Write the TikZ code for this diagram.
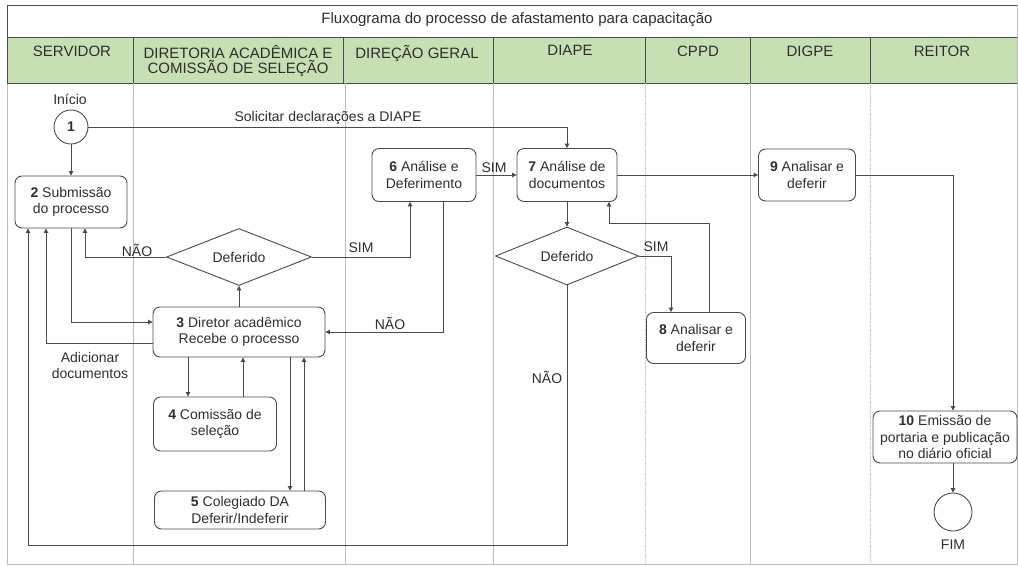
\documentclass[tikz,border=0pt]{standalone}
\usepackage{fontspec}
\setmainfont{Liberation Sans}
\usetikzlibrary{arrows.meta,shapes.geometric}
\definecolor{hdr}{HTML}{C6E0B4}
\definecolor{txt}{HTML}{2E2E2E}
\definecolor{edge}{HTML}{4A4A4A}
\definecolor{lane}{HTML}{BDBDBD}
\begin{document}
\begin{tikzpicture}[x=1pt,y=-1pt,
  every node/.style={text=txt, font=\fontsize{14}{16.5}\selectfont},
  proc/.style={draw=edge, line width=0.9pt, rounded corners=7pt, align=center, inner sep=0pt},
  dec/.style={draw=edge, line width=0.9pt, diamond, aspect=2.5, inner sep=0pt},
  term/.style={draw=edge, line width=0.9pt, circle, inner sep=0pt},
  arr/.style={draw=edge, line width=0.9pt, -{Triangle[length=4.5pt,width=4.5pt]}},
  hd/.style={anchor=north, align=center, text=txt, font=\fontsize{15}{15}\selectfont},
  lbl/.style={fill=none, inner sep=1pt}
]
\useasboundingbox (0,0) rectangle (1018,566);
% frame, title, header
\fill[hdr] (7,37) rectangle (1017,83);
\draw[lane, line width=0.8pt] (7,5) rectangle (1017,564);
\draw[edge, line width=0.9pt] (7,5) -- (1017,5);
\draw[edge, line width=0.8pt] (7,37) -- (1017,37);
\draw[edge, line width=0.9pt] (7,83) -- (1017,83);
\draw[edge, line width=0.8pt] (7,5) -- (7,83);
\foreach \x in {133,343,493,645,750,870}{
  \draw[edge, line width=0.8pt] (\x,37) -- (\x,83);
}
\foreach \x in {133,345,493,750}{
  \draw[lane, line width=0.7pt] (\x,83) -- (\x,564);
}
\foreach \x in {645,870}{
  \draw[lane, line width=0.8pt, densely dotted] (\x,83) -- (\x,564);
}
\node[text=txt, font=\fontsize{15}{16}\selectfont] (title) at (517,20) {Fluxograma do processo de afastamento para capacitação};
\node[hd] (h1) at (72,42) {SERVIDOR};
\node[hd] (h2) at (238,42) {DIRETORIA ACADÊMICA E\\COMISSÃO DE SELEÇÃO};
\node[hd] (h3) at (417,42) {DIREÇÃO GERAL};
\node[hd] (h4) at (570,42) {DIAPE};
\node[hd] (h5) at (698,42) {CPPD};
\node[hd] (h6) at (810,42) {DIGPE};
\node[hd] (h7) at (942,42) {REITOR};

% nodes
\node (inicio) at (70,99) {Início};
\node[term, minimum size=34pt] (n1) at (71,127) {\textbf{1}};
\node[proc, minimum width=112pt, minimum height=52pt] (n2) at (71,202) {\textbf{2} Submissão\\do processo};
\node[dec, minimum width=145pt, minimum height=57pt] (d1) at (239,257) {Deferido};
\node[proc, minimum width=104pt, minimum height=53pt] (n6) at (424,175) {\textbf{6} Análise e\\Deferimento};
\node[proc, minimum width=100pt, minimum height=53pt] (n7) at (567,175) {\textbf{7} Análise de\\documentos};
\node[dec, minimum width=143pt, minimum height=58pt] (d2) at (567,256) {Deferido};
\node[proc, minimum width=99pt, minimum height=51pt] (n8) at (696,338) {\textbf{8} Analisar e\\deferir};
\node[proc, minimum width=97pt, minimum height=52pt] (n9) at (807,175) {\textbf{9} Analisar e\\deferir};
\node[proc, minimum width=144pt, minimum height=52pt] (n10) at (945,437) {\textbf{10} Emissão de\\portaria e publicação\\no diário oficial};
\node[term, minimum size=38pt] (fim) at (953,512) {};
\node (fimlbl) at (953,545) {FIM};
\node[proc, minimum width=172pt, minimum height=50pt] (n3) at (239,332) {\textbf{3} Diretor acadêmico\\Recebe o processo};
\node[proc, minimum width=123pt, minimum height=54pt] (n4) at (215,424) {\textbf{4} Comissão de\\seleção};
\node[proc, minimum width=171pt, minimum height=38pt] (n5) at (240,510) {\textbf{5} Colegiado DA\\Deferir/Indeferir};

% connectors
\draw[arr] (n1.south) -- (n2.north);
\draw[arr] (n1.east) -| (n7.north);
\node[lbl] (l1) at (328,118) {Solicitar declarações a DIAPE};

\draw[arr] (d1.west) -| ([xshift=14pt]n2.south);
\node[lbl] (l2) at (137,250) {NÃO};
\draw[arr] (d1.east) -| ([xshift=-14pt]n6.south);
\node[lbl] (l3) at (361,248) {SIM};

\draw[arr] (n6.east) -- (n7.west);
\node[lbl] (l4) at (494,168) {SIM};
\draw[arr] (n7.south) -- (d2.north);
\draw[arr] (d2.east) -| ([xshift=-25pt]n8.north);
\node[lbl] (l5) at (656,247) {SIM};
\coordinate (c8) at (609,223);
\draw[arr] ([xshift=13pt]n8.north) |- (c8) -- (c8 |- n7.south);
\draw[arr] (n7.east) -- (n9.west);
\draw[arr] (n9.east) -| ([xshift=8pt]n10.north);
\draw[arr] ([xshift=8pt]n10.south) -- (fim.north);

\draw[arr] (n3.north) -- (d1.south);
\draw[arr] ([xshift=19pt]n6.south) |- (n3.east);
\node[lbl] (l6) at (390,323) {NÃO};
\draw[arr] (n2.south) |- ([yshift=10pt]n3.west);
\draw[arr] ([yshift=-11pt]n3.west) -| ([xshift=-25pt]n2.south);
\node[lbl, align=center, font=\fontsize{14}{16}\selectfont] (l7) at (90,365) {Adicionar\\documentos};
\coordinate (cb) at (28,545);
\draw[arr] (d2.south) |- (cb) -- (cb |- n2.south);
\node[lbl] (l8) at (547,377) {NÃO};

\draw[arr] ([xshift=-51pt]n3.south) -- ([xshift=-51pt]n3.south |- n4.north);
\draw[arr] ([xshift=28pt]n4.north) -- ([xshift=28pt]n4.north |- n3.south);
\draw[arr] ([xshift=51pt]n3.south) -- ([xshift=51pt]n3.south |- n5.north);
\draw[arr] ([xshift=64pt]n5.north) -- ([xshift=64pt]n5.north |- n3.south);
\end{tikzpicture}
\end{document}
